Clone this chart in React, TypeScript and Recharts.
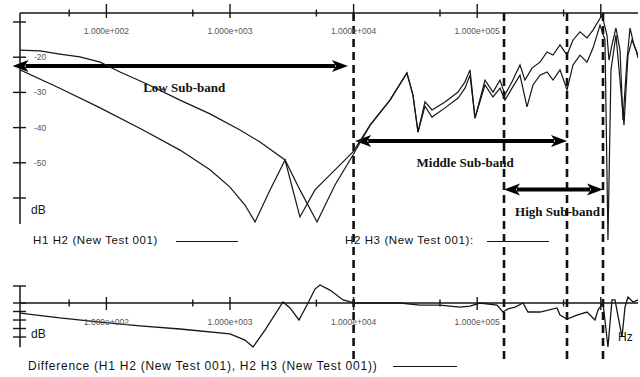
import { ComposedChart, Line, XAxis, YAxis, ReferenceLine, ReferenceDot } from 'recharts'

// H1 H2 response (Hz, dB)
const h12Freq = [
  20, 29, 42, 61, 89, 129, 213, 394, 689, 1206, 1750, 2790, 3680, 5060, 7070, 9890, 13600, 19700, 27000, 30200,
  33200, 37800, 43100, 54900, 70000, 79700, 87500, 96000, 115600, 134200, 152900, 167800, 191300, 222000, 243600,
  277600, 322300, 367100, 410600, 467800, 533000, 596000, 678800, 773400, 865000, 1023000, 1122000, 1165000,
  1232000, 1327000, 1430000, 1512000, 1629000, 1723000, 1856000, 2000000,
]
const h12Db = [
  -18.0, -18.2, -19.1, -19.9, -21.4, -24.2, -27.6, -32.2, -36.1, -40.7, -44.1, -49.2, -57.7, -66.8, -56.3, -47.8,
  -39.3, -32.2, -24.5, -30.7, -41.3, -32.7, -35.0, -32.7, -29.9, -27.0, -23.6, -37.3, -26.5, -29.9, -26.5, -30.7,
  -27.0, -22.2, -26.5, -23.1, -21.4, -18.5, -19.4, -16.5, -19.4, -15.1, -12.8, -14.5, -12.3, -8.0, -13.7, -20.8,
  -16.5, -11.7, -18.0, -37.8, -20.8, -11.7, -16.5, -19.4,
]

// H2 H3 response (Hz, dB)
const h23Freq = [
  20, 42, 89, 198, 394, 689, 1000, 1322, 1594, 2108, 2790, 3680, 4870, 7070, 9890, 13600, 19700, 27000, 30200,
  33200, 37800, 43100, 54900, 70000, 79700, 87500, 96000, 115600, 134200, 152900, 167800, 191300, 222000, 252900,
  282800, 322300, 367100, 410600, 467800, 533000, 596000, 678800, 773400, 865000, 985600, 1081000, 1143000,
  1209000, 1327000, 1430000, 1541000, 1660000, 1789000, 1927000, 2000000,
]
const h23Db = [
  -23.6, -28.8, -34.4, -40.7, -46.4, -52.0, -56.9, -62.0, -66.8, -57.7, -49.2, -65.4, -57.7, -52.0, -46.9, -39.3,
  -32.2, -24.5, -30.7, -41.3, -33.9, -37.0, -34.4, -31.6, -28.8, -25.1, -37.3, -27.9, -31.3, -28.8, -32.2, -28.8,
  -25.1, -34.1, -27.9, -25.1, -24.2, -26.5, -23.6, -29.3, -22.2, -19.4, -21.4, -17.4, -10.9, -15.1, -71.9, -23.6,
  -13.7, -26.5, -39.3, -19.4, -15.1, -18.0, -20.2,
]

// Difference curve (Hz, dB)
const diffFreq = [
  20, 42, 89, 187, 394, 1000, 1322, 1536, 1920, 2684, 3058, 3616, 4198, 4872, 5348, 6444, 8212, 10270, 23740,
  34460, 50020, 72600, 87480, 105400, 144600, 161700, 177500, 202300, 234700, 257600, 322300, 442400, 467800,
  533000, 642000, 773400, 897800, 949600, 1042000, 1143000, 1232000, 1303000, 1485000, 1570000, 1660000,
  1822000, 2000000,
]
const diffDb = [
  -5.9, -8.8, -11.2, -13.5, -15.3, -18.2, -21.8, -25.9, -15.9, 0.6, -2.9, -10.0, -1.2, 8.2, 10.6, 7.6, 1.8, 0, 0,
  -1.2, -1.2, -2.4, -1.8, 0, -1.2, -5.3, -3.5, -2.4, 0, -5.3, -5.3, -2.9, -7.1, -9.4, -7.1, -5.3, -10.0, -4.1, 0,
  -25.9, 1.8, 1.8, -20.0, -2.4, 3.5, 0.6, 1.8,
]

const freqMajorTicks = [100, 1000, 10000, 100000, 1000000]
const freqMajorLabels = ['1.000e+002', '1.000e+003', '1.000e+004', '1.000e+005', '']
const freqMinorTicks = [50, 500, 5000, 50000, 500000]
const dbTicks = [-10, -20, -30, -40, -50, -60]
const dbTickLabels = ['', '-20', '-30', '-40', '-50', '']
const diffTicks = [10, 0, -5, -10, -15, -20]

// sub-band boundaries (Hz) and the arrows between them
const bandEdges = [10000, 164800, 533000, 1042000]
const bandNames = ['Low Sub-band', 'Middle Sub-band', 'High Sub-band']
const bandFrom = [17.4, 10300, 164800]
const bandTo = [9000, 533000, 1042000]
const bandLevel = [-22.5, -43.8, -57.6]

// axis extents
const FREQ_DOMAIN: [number, number] = [20, 2000000]
const DB_DOMAIN: [number, number] = [-106.6, -7.44]
const DIFF_DOMAIN: [number, number] = [-34.7, 170.6]
const DB_AXIS_BOTTOM = -67.4
const DIFF_AXIS_TOP = 10
const DIFF_AXIS_BOTTOM = -26

const INK = '#161616'
const SANS = '"Liberation Sans", Arial, sans-serif'
const SERIF = '"Liberation Serif", "Times New Roman", serif'

const h12 = h12Freq.map((f, i) => ({ f, db: h12Db[i] }))
const h23 = h23Freq.map((f, i) => ({ f, db: h23Db[i] }))
const diff = diffFreq.map((f, i) => ({ f, d: diffDb[i] }))

// tick mark crossing a horizontal axis, with its label underneath
function freqTick(major: boolean, label: string, labelDy: number, up: number, down: number) {
  return ({ cx, cy }: { cx: number; cy: number }) => (
    <g>
      <line x1={cx} x2={cx} y1={cy - (major ? up : 3.5)} y2={cy + (major ? down : 3.5)} stroke={INK} strokeWidth={1.4} />
      {label ? (
        <text x={cx} y={cy + labelDy} textAnchor="middle" fontSize={8.5} fill="#555" fontFamily={SANS}>
          {label}
        </text>
      ) : null}
    </g>
  )
}

function dbTick(label: string, unit: string, unitDy: number) {
  return ({ cx, cy }: { cx: number; cy: number }) => (
    <g>
      <line x1={cx - 7} x2={cx + 6} y1={cy} y2={cy} stroke={INK} strokeWidth={1.4} />
      {label ? (
        <text x={cx + 14} y={cy + 3} fontSize={8.5} fill="#555" fontFamily={SANS}>
          {label}
        </text>
      ) : null}
      {unit ? (
        <text x={cx + 11} y={cy + unitDy} fontSize={12} fill={INK} fontFamily={SANS}>
          {unit}
        </text>
      ) : null}
    </g>
  )
}

// thick double-headed arrow with the band name below it
function bandArrow(name: string) {
  return (p: any) => {
    const { x1, x2, y1 } = p
    const y = y1
    const head = 16
    const half = 6
    return (
      <g>
        <line x1={x1 + head - 3} x2={x2 - head + 3} y1={y} y2={y} stroke="#000" strokeWidth={4} />
        <polygon points={`${x1},${y} ${x1 + head},${y - half} ${x1 + head - 4},${y} ${x1 + head},${y + half}`} fill="#000" />
        <polygon points={`${x2},${y} ${x2 - head},${y - half} ${x2 - head + 4},${y} ${x2 - head},${y + half}`} fill="#000" />
        <text x={(x1 + x2) / 2 + 4} y={y + 26} textAnchor="middle" fontSize={13} fontWeight="bold" fill="#111" fontFamily={SERIF}>
          {name}
        </text>
      </g>
    )
  }
}

const legendText = { position: 'absolute' as const, fontFamily: SANS, fontSize: 11.5, letterSpacing: 0.6, color: '#111', whiteSpace: 'nowrap' as const }
const legendLine = { position: 'absolute' as const, height: 0, borderTop: `1.3px solid ${INK}` }

export default function App() {
  return (
    <div style={{ position: 'absolute', left: 0, top: 0, width: 640, height: 377, background: '#fff', overflow: 'hidden' }}>
      <ComposedChart width={640} height={377} margin={{ top: 12, right: 2, bottom: 15, left: 20 }}>
        <XAxis
          dataKey="f"
          type="number"
          scale="log"
          domain={FREQ_DOMAIN}
          allowDataOverflow
          orientation="top"
          height={1}
          tick={false}
          tickLine={false}
          axisLine={{ stroke: INK, strokeWidth: 1.5 }}
        />
        <YAxis yAxisId="db" type="number" domain={DB_DOMAIN} allowDataOverflow hide />
        <YAxis yAxisId="diff" type="number" domain={DIFF_DOMAIN} allowDataOverflow hide />

        {/* axis lines */}
        <ReferenceLine
          yAxisId="db"
          ifOverflow="visible"
          segment={[{ x: FREQ_DOMAIN[0], y: DB_DOMAIN[1] }, { x: FREQ_DOMAIN[0], y: DB_AXIS_BOTTOM }]}
          stroke={INK}
          strokeWidth={1.5}
        />
        <ReferenceLine
          yAxisId="diff"
          ifOverflow="visible"
          segment={[{ x: FREQ_DOMAIN[0], y: DIFF_AXIS_TOP }, { x: FREQ_DOMAIN[0], y: DIFF_AXIS_BOTTOM }]}
          stroke={INK}
          strokeWidth={1.5}
        />
        <ReferenceLine yAxisId="diff" y={0} stroke={INK} strokeWidth={1.5} />

        {/* ticks */}
        {freqMajorTicks.map((t, i) => (
          <ReferenceDot key={`tm${t}`} yAxisId="db" x={t} y={DB_DOMAIN[1]} ifOverflow="visible" shape={freqTick(true, freqMajorLabels[i], 21, 9, 5)} />
        ))}
        {freqMinorTicks.map((t) => (
          <ReferenceDot key={`tn${t}`} yAxisId="db" x={t} y={DB_DOMAIN[1]} ifOverflow="visible" shape={freqTick(false, '', 0, 0, 0)} />
        ))}
        {freqMajorTicks.map((t, i) => (
          <ReferenceDot key={`bm${t}`} yAxisId="diff" x={t} y={0} ifOverflow="visible" shape={freqTick(true, freqMajorLabels[i], 22, 6, 7)} />
        ))}
        {freqMinorTicks.map((t) => (
          <ReferenceDot key={`bn${t}`} yAxisId="diff" x={t} y={0} ifOverflow="visible" shape={freqTick(false, '', 0, 0, 0)} />
        ))}
        {dbTicks.map((t, i) => (
          <ReferenceDot
            key={`dt${t}`}
            yAxisId="db"
            x={FREQ_DOMAIN[0]}
            y={t}
            ifOverflow="visible"
            shape={dbTick(dbTickLabels[i], i === dbTicks.length - 1 ? 'dB' : '', 16)}
          />
        ))}
        {diffTicks.map((t, i) => (
          <ReferenceDot
            key={`ft${t}`}
            yAxisId="diff"
            x={FREQ_DOMAIN[0]}
            y={t}
            ifOverflow="visible"
            shape={dbTick('', i === 4 ? 'dB' : '', 9)}
          />
        ))}

        {/* sub-band boundaries */}
        {bandEdges.map((f) => (
          <ReferenceLine key={`e${f}`} yAxisId="db" x={f} ifOverflow="visible" stroke="#111" strokeWidth={2.6} strokeDasharray="8 5" />
        ))}
        {bandNames.map((name, i) => (
          <ReferenceLine
            key={name}
            yAxisId="db"
            ifOverflow="visible"
            segment={[{ x: bandFrom[i], y: bandLevel[i] }, { x: bandTo[i], y: bandLevel[i] }]}
            shape={bandArrow(name)}
          />
        ))}

        <Line data={h12} dataKey="db" yAxisId="db" type="linear" stroke={INK} strokeWidth={1.2} dot={false} isAnimationActive={false} />
        <Line data={h23} dataKey="db" yAxisId="db" type="linear" stroke={INK} strokeWidth={1.2} dot={false} isAnimationActive={false} />
        <Line data={diff} dataKey="d" yAxisId="diff" type="linear" stroke={INK} strokeWidth={1.3} dot={false} isAnimationActive={false} />
      </ComposedChart>

      <div style={{ ...legendText, left: 33, top: 234 }}>H1 H2 (New Test 001)</div>
      <div style={{ ...legendLine, left: 176, width: 62, top: 241 }} />
      <div style={{ ...legendText, left: 345, top: 234 }}>H2 H3 (New Test 001):</div>
      <div style={{ ...legendLine, left: 487, width: 62, top: 241 }} />
      <div style={{ ...legendText, fontSize: 12, letterSpacing: 0.75, left: 28, top: 359 }}>
        Difference (H1 H2 (New Test 001), H2 H3 (New Test 001))
      </div>
      <div style={{ ...legendLine, left: 393, width: 64, top: 366 }} />
      <div style={{ position: 'absolute', left: 618, top: 330, fontFamily: SANS, fontSize: 12, color: '#111' }}>Hz</div>
    </div>
  )
}
